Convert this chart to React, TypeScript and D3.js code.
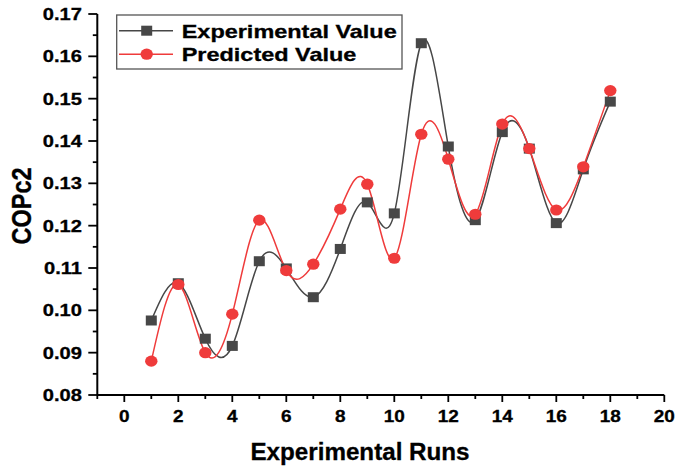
import { useRef, useEffect } from "react";
import * as d3 from "d3";

const runs = [1, 2, 3, 4, 5, 6, 7, 8, 9, 10, 11, 12, 13, 14, 15, 16, 17, 18];

const experimental = [
  0.0976, 0.1064, 0.0933, 0.0916, 0.1116, 0.1099, 0.1031, 0.1145, 0.1255,
  0.1229, 0.1631, 0.1387, 0.1213, 0.1421, 0.1382, 0.1206, 0.1333, 0.1493,
];

const predicted = [
  0.0880, 0.1061, 0.0900, 0.0991, 0.1213, 0.1094, 0.1109, 0.1239, 0.1298,
  0.1123, 0.1416, 0.1357, 0.1227, 0.1440, 0.1382, 0.1237, 0.1339, 0.1519,
];

const xTicks = [0, 2, 4, 6, 8, 10, 12, 14, 16, 18, 20];
const yTicks = [0.08, 0.09, 0.1, 0.11, 0.12, 0.13, 0.14, 0.15, 0.16, 0.17];

const seriesNames = ["Experimental Value", "Predicted Value"];

const W = 676;
const H = 466;
const FONT = "'Liberation Sans', Arial, sans-serif";
const EXP_COLOR = "#474747";
const PRED_COLOR = "#ef3b3b";

export default function App() {
  const svgRef = useRef<SVGSVGElement>(null);

  useEffect(() => {
    const svg = d3.select(svgRef.current);
    svg.selectAll("*").remove();

    const x = d3.scaleLinear().domain([-1, 20]).range([97.3, 664.3]);
    const y = d3.scaleLinear().domain([0.08, 0.17]).range([395, 14]);

    const bottom = y(0.08);
    const left = x(-1);

    // x axis: majors at even, minors at odd
    const xAxis = svg.append("g");
    xAxis.append("line")
      .attr("x1", left).attr("x2", x(20))
      .attr("y1", bottom).attr("y2", bottom)
      .attr("stroke", "#000").attr("stroke-width", 2);
    d3.range(-1, 21).forEach(v => {
      const major = v % 2 === 0;
      xAxis.append("line")
        .attr("x1", x(v)).attr("x2", x(v))
        .attr("y1", bottom).attr("y2", bottom + (major ? 7 : 4))
        .attr("stroke", "#000").attr("stroke-width", 1.8);
    });
    xTicks.forEach(v => {
      xAxis.append("text")
        .attr("transform", `translate(${x(v)},${bottom + 27}) scale(1.15,1)`)
        .attr("text-anchor", "middle")
        .attr("font-family", FONT).attr("font-weight", "bold")
        .attr("font-size", 16.5)
        .attr("stroke", "#000").attr("stroke-width", 0.3)
        .text(v);
    });

    // y axis
    const yAxis = svg.append("g");
    yAxis.append("line")
      .attr("x1", left).attr("x2", left)
      .attr("y1", y(0.17)).attr("y2", bottom)
      .attr("stroke", "#000").attr("stroke-width", 2);
    d3.range(0, 19).forEach(i => {
      const v = 0.08 + i * 0.005;
      const major = i % 2 === 0;
      yAxis.append("line")
        .attr("x1", left).attr("x2", left - (major ? 9 : 4.5))
        .attr("y1", y(v)).attr("y2", y(v))
        .attr("stroke", "#000").attr("stroke-width", 1.8);
    });
    yTicks.forEach(v => {
      yAxis.append("text")
        .attr("transform", `translate(82,${y(v) + 6}) scale(1.22,1)`)
        .attr("text-anchor", "end")
        .attr("font-family", FONT).attr("font-weight", "bold")
        .attr("font-size", 16.5)
        .attr("stroke", "#000").attr("stroke-width", 0.3)
        .text(d3.format(".2f")(v));
    });

    // axis titles
    svg.append("text")
      .attr("transform", `translate(360,460) scale(1.03,1)`)
      .attr("text-anchor", "middle")
      .attr("font-family", FONT).attr("font-weight", "bold")
      .attr("font-size", 23.5)
      .attr("stroke", "#000").attr("stroke-width", 0.3)
      .text("Experimental Runs");

    svg.append("text")
      .attr("transform", `translate(31,206) scale(1.2,1) rotate(-90)`)
      .attr("text-anchor", "middle")
      .attr("font-family", FONT).attr("font-weight", "bold")
      .attr("font-size", 23.5)
      .attr("stroke", "#000").attr("stroke-width", 0.3)
      .text("COPc2");

    const line = d3.line<number>()
      .x((_, i) => x(runs[i]))
      .y(d => y(d))
      .curve(d3.curveNatural);

    const series = [
      { values: experimental, color: EXP_COLOR, shape: "square" },
      { values: predicted, color: PRED_COLOR, shape: "circle" },
    ];

    series.forEach(s => {
      svg.append("path")
        .datum(s.values)
        .attr("fill", "none")
        .attr("stroke", s.color)
        .attr("stroke-width", 1.5)
        .attr("d", line);
    });

    const drawMarker = (g: d3.Selection<any, any, any, any>, shape: string, cx: number, cy: number, color: string) => {
      if (shape === "square") {
        g.append("rect")
          .attr("x", cx - 5.5).attr("y", cy - 5)
          .attr("width", 11).attr("height", 10)
          .attr("fill", color);
      } else {
        g.append("ellipse")
          .attr("cx", cx).attr("cy", cy)
          .attr("rx", 6.2).attr("ry", 5.6)
          .attr("fill", color);
      }
    };

    series.forEach(s => {
      const g = svg.append("g");
      s.values.forEach((v, i) => drawMarker(g, s.shape, x(runs[i]), y(v), s.color));
    });

    // legend
    const legend = svg.append("g");
    legend.append("rect")
      .attr("x", 116.7).attr("y", 15)
      .attr("width", 285.3).attr("height", 54)
      .attr("fill", "#fff")
      .attr("stroke", "#555").attr("stroke-width", 1.3);

    series.forEach((s, i) => {
      const ly = 30.7 + i * 23.5;
      legend.append("line")
        .attr("x1", 119).attr("x2", 173)
        .attr("y1", ly).attr("y2", ly)
        .attr("stroke", s.color).attr("stroke-width", 1.5);
      drawMarker(legend, s.shape, 146.7, ly, s.color);
      legend.append("text")
        .attr("transform", `translate(181.7,${ly + 6.8}) scale(1.34,1)`)
        .attr("font-family", FONT).attr("font-weight", "bold")
        .attr("font-size", 17.5)
        .attr("stroke", "#000").attr("stroke-width", 0.3)
        .text(seriesNames[i]);
    });
  }, []);

  return (
    <div style={{ position: "absolute", left: 0, top: 0, width: W, height: H, background: "#fff" }}>
      <svg ref={svgRef} width={W} height={H} viewBox={`0 0 ${W} ${H}`} style={{ display: "block" }} />
    </div>
  );
}
